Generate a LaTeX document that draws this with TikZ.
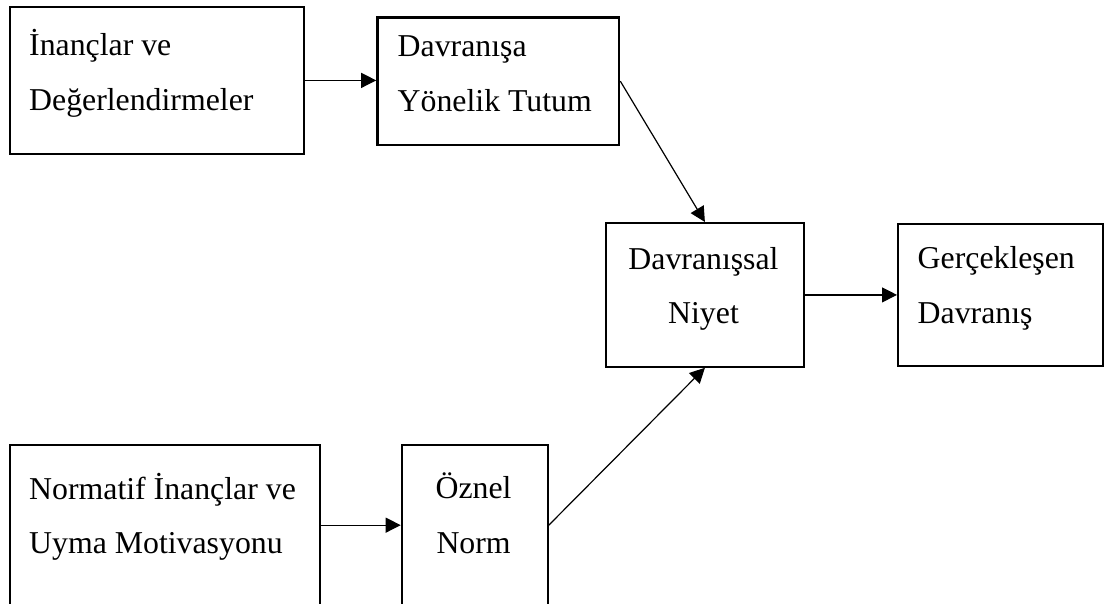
\documentclass[tikz,border=0pt]{standalone}
\usepackage{fontspec}
\setmainfont{Liberation Serif}
\usetikzlibrary{arrows.meta}
\begin{document}
\begin{tikzpicture}[x=1pt, y=-1pt,
  box/.style={draw=black, line width=2.3pt, rectangle, anchor=north west, inner sep=0pt},
  lbl/.style={inner sep=0pt, font=\fontsize{31.8}{38}\selectfont},
  link/.style={draw=black, line width=1.2pt, -{Triangle[length=15pt, width=15pt]}}]
  \useasboundingbox (0,0) rectangle (1105,603);

  % frames
  \node[box, minimum width=294.3pt, minimum height=147.5pt] (b1) at (8.7,5.5) {};
  \node[box, minimum width=241.8pt, minimum height=127.6pt] (b2) at (376.2,16.2) {};
  \node[box, minimum width=198.5pt, minimum height=143.5pt] (b3) at (604.5,222) {};
  \node[box, minimum width=205pt, minimum height=141.5pt] (b4) at (897,223) {};
  \node[box, minimum width=310.5pt, minimum height=160pt] (b5) at (8.5,444) {};
  \node[box, minimum width=145.8pt, minimum height=160pt] (b6) at (400.7,444) {};

  % labels, one node per printed line
  \node[lbl, anchor=base west] (t1a) at (29,55) {İnançlar ve};
  \node[lbl, anchor=base west] (t1b) at (29,110) {Değerlendirmeler};
  \node[lbl, anchor=base west] (t2a) at (397.5,56) {Davranışa};
  \node[lbl, anchor=base west] (t2b) at (397.5,111) {Yönelik Tutum};
  \node[lbl, anchor=base] (t3a) at (703.5,269) {Davranışsal};
  \node[lbl, anchor=base] (t3b) at (703.5,323.3) {Niyet};
  \node[lbl, anchor=base west] (t4a) at (917.5,268.3) {Gerçekleşen};
  \node[lbl, anchor=base west] (t4b) at (917.5,323.3) {Davranış};
  \node[lbl, anchor=base west] (t5a) at (29,499) {Normatif İnançlar ve};
  \node[lbl, anchor=base west] (t5b) at (29,553.3) {Uyma Motivasyonu};
  \node[lbl, anchor=base] (t6a) at (473.6,498.3) {Öznel};
  \node[lbl, anchor=base] (t6b) at (473.6,553.3) {Norm};

  % connectors
  \draw[link] (b1.east) -- (b1.east -| b2.west);
  \draw[link] (b2.east) -- (b3.north);
  \draw[link] (b3.east) -- (b4.west);
  \draw[link] (b5.east) -- (b6.west);
  \draw[link] (b6.east) -- (b3.south);
\end{tikzpicture}
\end{document}
